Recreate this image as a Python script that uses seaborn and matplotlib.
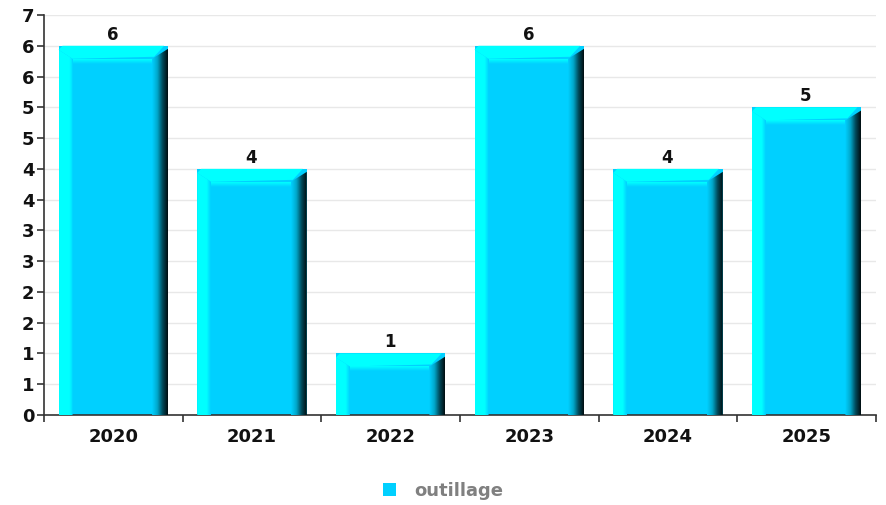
import numpy as np
import pandas as pd
import matplotlib
matplotlib.use("Agg")
import matplotlib.pyplot as plt
import seaborn as sns
from matplotlib.patches import Polygon, Patch
from matplotlib.colors import LinearSegmentedColormap

years = ["2020", "2021", "2022", "2023", "2024", "2025"]
values = [6, 4, 1, 6, 4, 5]
series_name = "outillage"
ytick_values = [0, 0.5, 1, 1.5, 2, 2.5, 3, 3.5, 4, 4.5, 5, 5.5, 6, 6.5]
ytick_labels = ["0", "1", "1", "2", "2", "3", "3", "4", "4", "5", "5", "6", "6", "7"]

BODY = "#00D0FF"
LIGHT = "#00FFFF"
DARK = "#000d10"

sns.set_theme(style="white")
plt.rcParams['font.family'] = ['DejaVu Sans']

W, H = 886, 505
fig = plt.figure(figsize=(W / 100, H / 100), dpi=100)
L, R, B, T = 44, 876, 415, 15
ax = fig.add_axes([L / W, (H - B) / H, (R - L) / W, (B - T) / H])

df = pd.DataFrame({"year": years, "value": values})
sns.barplot(data=df, x="year", y="value", color=BODY, saturation=1,
            width=0.79, ax=ax, edgecolor="none", linewidth=0)

ax.set_xlim(-0.5, 5.5)
ax.set_ylim(0, 6.5)

px_x = 6.0 / (R - L)
px_y = 6.5 / (B - T)

cmap_right = LinearSegmentedColormap.from_list("r", [BODY, "#00a8cc", "#004a5a", DARK])
cmap_left = LinearSegmentedColormap.from_list("l", [(0, LIGHT), (0.7, LIGHT), (1, BODY)])
grad = np.linspace(0, 1, 64).reshape(1, -1)

for p in list(ax.patches):
    x0 = p.get_x()
    w = p.get_width()
    x1 = x0 + w
    top = p.get_height()
    sw = 16 * px_x
    lw = 14 * px_x
    bv = 13 * px_y
    poly_r = Polygon([(x1 - sw, 0), (x1, 0), (x1, top - 3 * px_y), (x1 - sw, top - bv)],
                     closed=True, transform=ax.transData, facecolor="none", edgecolor="none")
    ax.add_patch(poly_r)
    im = ax.imshow(grad, cmap=cmap_right, extent=(x1 - sw, x1, 0, top), aspect="auto",
                   zorder=3, interpolation="bilinear")
    im.set_clip_path(poly_r)
    poly_l = Polygon([(x0, 0), (x0 + lw, 0), (x0 + lw, top - bv), (x0, top - 4 * px_y)],
                     closed=True, transform=ax.transData, facecolor="none", edgecolor="none")
    ax.add_patch(poly_l)
    im2 = ax.imshow(grad, cmap=cmap_left, extent=(x0, x0 + lw, 0, top), aspect="auto",
                    zorder=3, interpolation="bilinear")
    im2.set_clip_path(poly_l)
    poly_t = Polygon([(x0, top - 4 * px_y), (x0 + 4 * px_x, top), (x1 - 4 * px_x, top),
                      (x1 - sw + 2 * px_x, top - bv + 2 * px_y), (x0 + lw, top - bv)],
                     closed=True, facecolor=LIGHT, edgecolor="none", zorder=3.5)
    ax.add_patch(poly_t)
    poly_s = Polygon([(x0 + lw, top - bv), (x1 - sw, top - bv), (x1 - sw, top - bv - 5 * px_y),
                      (x0 + lw, top - bv - 5 * px_y)], closed=True, transform=ax.transData,
                     facecolor="none", edgecolor="none")
    ax.add_patch(poly_s)
    im3 = ax.imshow(np.linspace(0, 1, 32).reshape(-1, 1),
                    cmap=LinearSegmentedColormap.from_list("t", [LIGHT, BODY]),
                    extent=(x0 + lw, x1 - sw, top - bv - 5 * px_y, top - bv), aspect="auto",
                    zorder=3.4, interpolation="bilinear", origin="upper")
    im3.set_clip_path(poly_s)
    ax.text(x0 + w / 2 - 1 * px_x, top + 2 * px_y, f"{top:g}", ha="center", va="bottom",
            fontsize=12, fontweight="bold", color="#111111", zorder=5)

ax.set_xlim(-0.5, 5.5)
ax.set_ylim(0, 6.5)

ax.set_yticks(ytick_values)
ax.set_yticklabels(ytick_labels)
ax.yaxis.grid(True, color="#e8e8e8", linewidth=1)
ax.set_axisbelow(True)
ax.set_xlabel("")
ax.set_ylabel("")
for s in ["top", "right"]:
    ax.spines[s].set_visible(False)
for s in ["left", "bottom"]:
    ax.spines[s].set_color("#333333")
    ax.spines[s].set_linewidth(1.2)

ax.set_xticks(np.arange(-0.5, 6.0, 1.0), minor=True)
ax.tick_params(axis="x", which="major", length=0, pad=9, labelsize=13)
ax.tick_params(axis="x", which="minor", length=5, width=1.2, color="#333333", direction="out")
ax.tick_params(axis="y", which="major", length=5, width=1.2, color="#333333", direction="out",
               labelsize=13, pad=2)
ax.tick_params(left=True, bottom=True, which="both")
for lab in ax.get_xticklabels() + ax.get_yticklabels():
    lab.set_fontweight("bold")
    lab.set_color("#111111")

handle = Patch(facecolor=BODY, edgecolor="none")
leg = fig.legend([handle], [series_name], loc="center", bbox_to_anchor=(0.5, (H - 491) / H),
                 frameon=False, handlelength=0.75, handleheight=0.75, handletextpad=1.0,
                 prop={"weight": "bold", "size": 13})
for t in leg.get_texts():
    t.set_color("#808080")

fig.savefig("out.png", dpi=100)
